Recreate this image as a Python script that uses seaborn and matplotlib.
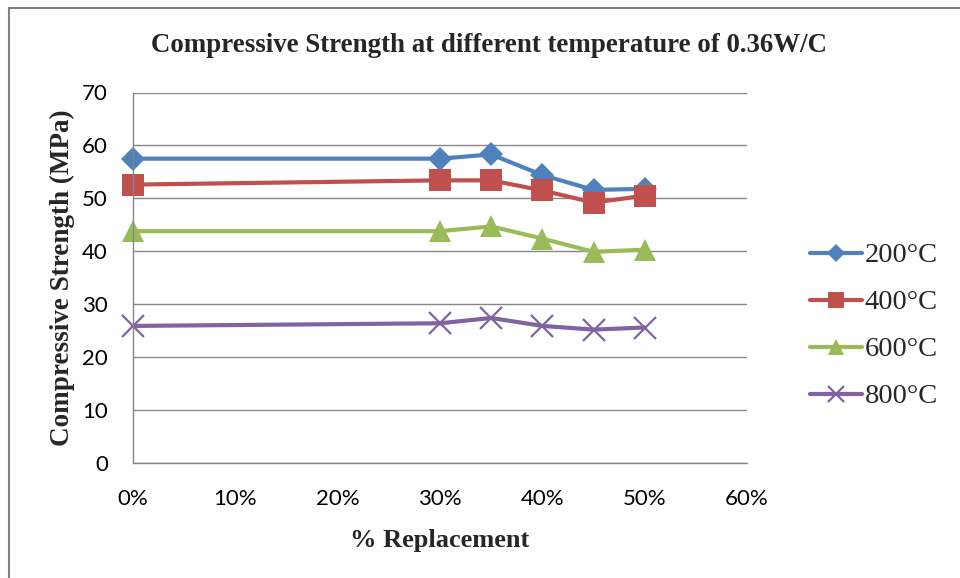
import matplotlib
matplotlib.use("Agg")
import matplotlib.pyplot as plt
import seaborn as sns
import pandas as pd
from matplotlib.patches import Rectangle
from matplotlib.ticker import PercentFormatter

replacement = [0, 30, 35, 40, 45, 50]
s200 = [57.5, 57.5, 58.3, 54.4, 51.6, 51.8]
s400 = [52.6, 53.4, 53.4, 51.5, 49.2, 50.5]
s600 = [43.8, 43.8, 44.7, 42.4, 39.9, 40.3]
s800 = [25.9, 26.4, 27.4, 25.9, 25.2, 25.6]
labels = ["200°C", "400°C", "600°C", "800°C"]

colors = ["#4F81BD", "#C0504D", "#9BBB59", "#8064A2"]
markers = ["D", "s", "^", "x"]
msizes = [12, 15.5, 16, 16]

sns.set_theme(style="white")
plt.rcParams['font.family'] = ['Lato', 'DejaVu Sans']

fig = plt.figure(figsize=(9.6, 5.78), dpi=100)
ax = fig.add_axes([133/960, 1-463/578, (747-133)/960, (463-92.5)/578])

for lab, vals, c, m, ms in zip(labels, [s200, s400, s600, s800], colors, markers, msizes):
    df = pd.DataFrame({"x": replacement, "y": vals})
    mew = 1.6 if m == "x" else 0
    sns.lineplot(data=df, x="x", y="y", ax=ax, color=c, linewidth=3.0,
                 marker=m, markersize=ms, markeredgewidth=mew,
                 markeredgecolor=c, label=lab)

ax.set_xlim(0, 60)
ax.set_ylim(0, 70)
ax.set_xticks(range(0, 61, 10))
ax.set_yticks(range(0, 71, 10))
ax.xaxis.set_major_formatter(PercentFormatter(decimals=0))
ax.grid(axis="y", color="#868686", linewidth=1)
ax.grid(axis="x", visible=False)
for side in ["top", "right"]:
    ax.spines[side].set_visible(False)
for side in ["left", "bottom"]:
    ax.spines[side].set_color("#868686")
    ax.spines[side].set_linewidth(1)
ax.tick_params(axis="both", labelsize=16, colors="#000000", length=0)
ax.tick_params(axis="x", pad=19)
ax.tick_params(axis="y", pad=18)
for ln in ax.lines:
    ln.set_clip_on(False)

ax.set_xlabel("% Replacement", family="Liberation Serif", fontweight="bold", fontsize=19, labelpad=14)
ax.set_ylabel("Compressive Strength (MPa)", family="Liberation Serif", fontweight="bold", fontsize=19.5, labelpad=5)
fig.text(489/960, 1-45/578, "Compressive Strength at different temperature of 0.36W/C",
         family="Liberation Serif", fontweight="bold", fontsize=19.4, ha="center", va="center")

leg = ax.legend(loc="center left", bbox_to_anchor=(799/960, 1-326/578), bbox_transform=fig.transFigure,
                frameon=False, prop={"family": "Liberation Serif", "size": 20.5},
                handlelength=1.8, labelspacing=0.74, handletextpad=0.1, markerscale=0.75,
                borderaxespad=0)

fig.patches.append(Rectangle((9/960, -0.1), 1.2, 1 - 8/578 + 0.1, transform=fig.transFigure,
                             fill=False, edgecolor="#808080", linewidth=1.5))

fig.savefig("out.png", dpi=100)
